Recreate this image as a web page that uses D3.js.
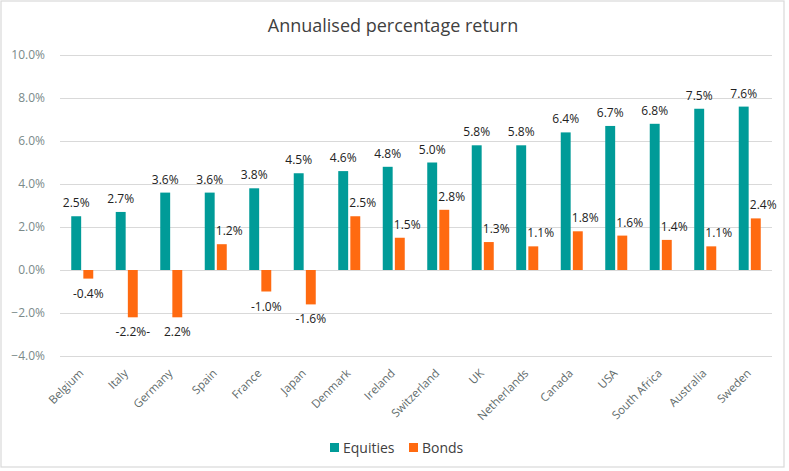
<!DOCTYPE html>
<html>
<head>
<meta charset="utf-8">
<script src="https://cdn.jsdelivr.net/npm/d3@7"></script>
<style>
  html, body { margin: 0; padding: 0; background: #fff; }
  svg { display: block; font-family: "Open Sans", "Noto Sans", sans-serif; }
</style>
</head>
<body>
<svg id="chart" width="789" height="471"></svg>
<script>
const categories = ["Belgium","Italy","Germany","Spain","France","Japan","Denmark","Ireland","Switzerland","UK","Netherlands","Canada","USA","South Africa","Australia","Sweden"];
const equities = [2.5, 2.7, 3.6, 3.6, 3.8, 4.5, 4.6, 4.8, 5.0, 5.8, 5.8, 6.4, 6.7, 6.8, 7.5, 7.6];
const bonds = [-0.4, -2.2, -2.2, 1.2, -1.0, -1.6, 2.5, 1.5, 2.8, 1.3, 1.1, 1.8, 1.6, 1.4, 1.1, 2.4];
const equityLabels = ["2.5%","2.7%","3.6%","3.6%","3.8%","4.5%","4.6%","4.8%","5.0%","5.8%","5.8%","6.4%","6.7%","6.8%","7.5%","7.6%"];
const bondLabels = ["-0.4%","-2.2%-","2.2%","1.2%","-1.0%","-1.6%","2.5%","1.5%","2.8%","1.3%","1.1%","1.8%","1.6%","1.4%","1.1%","2.4%"];
const yTicks = [-4, -2, 0, 2, 4, 6, 8, 10];
const seriesNames = ["Equities", "Bonds"];
const colors = ["#009b98", "#ff6a10"];

const svg = d3.select("#chart");

// outer border
svg.append("rect").attr("x", 1).attr("y", 1).attr("width", 783).attr("height", 466)
  .attr("fill", "#fff").attr("stroke", "#d9d9d9").attr("stroke-width", 1.2);

const x = d3.scaleBand().domain(categories).range([60, 772]).padding(0);
const xs = d3.scaleBand().domain(seriesNames).range([-11, 11]).paddingInner(0.18);
const y = d3.scaleLinear().domain([-4, 10]).range([356, 55]);

// title
svg.append("text").attr("x", 393).attr("y", 32).attr("text-anchor", "middle")
  .attr("font-size", 18).attr("fill", "#404040").text("Annualised percentage return");

// gridlines + y labels
const yAxis = d3.axisLeft(y).tickValues(yTicks).tickSize(-(772 - 60))
  .tickFormat(d => d3.format(".1f")(d) + "%");
const gy = svg.append("g").attr("transform", "translate(60,0)").call(yAxis);
gy.select(".domain").remove();
gy.selectAll(".tick line").attr("stroke", "#d9d9d9").attr("stroke-width", 1.2);
gy.selectAll(".tick text").attr("x", -15).attr("font-size", 12).attr("fill", "#7a8a8a")
  .attr("font-family", "'Open Sans', sans-serif");

// bars
const data = categories.map((c, i) => ({ c, vals: [equities[i], bonds[i]], labs: [equityLabels[i], bondLabels[i]] }));
const groups = svg.append("g").selectAll("g").data(data).join("g")
  .attr("transform", d => `translate(${x(d.c) + x.bandwidth() / 2},0)`);

groups.selectAll("rect").data(d => d.vals.map((v, k) => ({ v, k }))).join("rect")
  .attr("x", d => xs(seriesNames[d.k]))
  .attr("width", xs.bandwidth())
  .attr("y", d => Math.min(y(d.v), y(0)))
  .attr("height", d => Math.abs(y(d.v) - y(0)))
  .attr("fill", d => colors[d.k]);

// data labels
groups.selectAll("text").data(d => d.vals.map((v, k) => ({ v, k, lab: d.labs[k] }))).join("text")
  .attr("font-size", 12).attr("fill", "#222")
  .attr("text-anchor", d => (d.k === 1 && d.v > 0) ? "start" : "middle")
  .attr("x", d => (d.k === 1 && d.v > 0) ? xs(seriesNames[1]) - 1 : xs(seriesNames[d.k]) + xs.bandwidth() / 2)
  .attr("y", d => d.v >= 0 ? y(d.v) - 9 : y(d.v) + 19)
  .text(d => d.lab);

// x axis labels
svg.append("g").selectAll("text").data(categories).join("text")
  .attr("text-anchor", "end").attr("font-size", 11.5).attr("fill", "#5f6b6b")
  .attr("transform", d => `translate(${x(d) + x.bandwidth() / 2 + 2},374) rotate(-45)`)
  .text(d => d);

// legend
const legend = svg.append("g");
const legX = [330, 409];
seriesNames.forEach((s, k) => {
  legend.append("rect").attr("x", legX[k]).attr("y", 443).attr("width", 9).attr("height", 9).attr("fill", colors[k]);
  legend.append("text").attr("x", legX[k] + 13).attr("y", 453).attr("font-size", 14).attr("fill", "#404040").text(s);
});
</script>
</body>
</html>
